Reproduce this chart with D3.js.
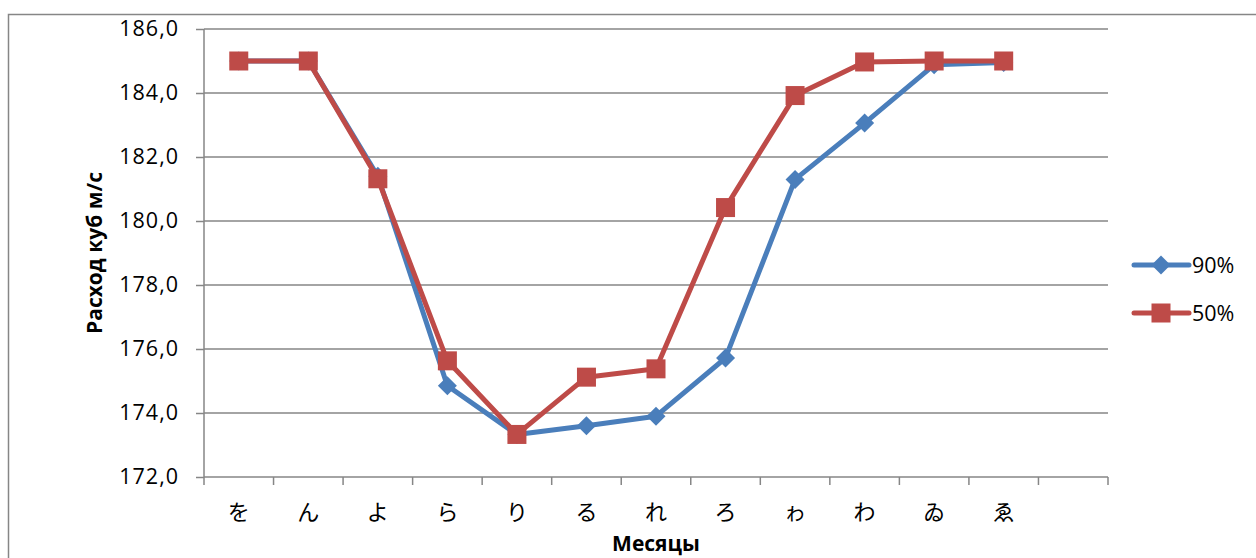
<!DOCTYPE html>
<html><head><meta charset="utf-8">
<script src="https://cdn.jsdelivr.net/npm/d3@7/dist/d3.min.js"></script>
<style>
body{margin:0;background:#fff;}
text{font-family:"Open Sans","Liberation Sans",sans-serif;fill:#000;}
</style></head>
<body>
<svg id="c" width="1256" height="558"></svg>
<script>
const categories = ["を","ん","よ","ら","り","る","れ","ろ","ゎ","わ","ゐ","ゑ",""];
const series90 = [185.0,185.0,181.4,174.85,173.33,173.6,173.9,175.72,181.3,183.06,184.88,184.95];
const series50 = [185.0,185.0,181.32,175.63,173.33,175.12,175.38,180.42,183.92,184.97,185.0,185.0];
const seriesNames = ["90%","50%"];
const yTicks = [172,174,176,178,180,182,184,186];
const yTitle = "Расход куб м/с";
const xTitle = "Месяцы";

const svg = d3.select("#c");
const L = 204, R = 1108, T = 29, B = 477;
const blue = "#4A7EBB", red = "#BE4B48";

// outer frame
svg.append("rect").attr("x",8.5).attr("y",14.5).attr("width",1300).attr("height",600)
  .attr("fill","none").attr("stroke","#868686").attr("stroke-width",1.5);

const x = d3.scaleBand().domain(categories).range([L,R]).padding(0);
const y = d3.scaleLinear().domain([172,186]).range([B,T]);
const cx = c => x(c) + x.bandwidth()/2;

// gridlines
svg.append("g").selectAll("line").data(yTicks.slice(1)).join("line")
  .attr("x1",L).attr("x2",R).attr("y1",d=>y(d)).attr("y2",d=>y(d))
  .attr("stroke","#868686").attr("stroke-width",1.5);

// y axis
const fmt = d => d3.format(".1f")(d).replace(".",",");
const yAxis = svg.append("g").attr("transform",`translate(${L},0)`)
  .call(d3.axisLeft(y).tickValues(yTicks).tickFormat(fmt).tickSize(8).tickPadding(17));
yAxis.select(".domain").attr("stroke","#868686").attr("stroke-width",1.5).attr("d",`M0,${T}V${B}`);
yAxis.selectAll(".tick line").attr("stroke","#868686").attr("stroke-width",1.5);
yAxis.selectAll("text").attr("font-size",21.5).attr("letter-spacing","1px")
  .style("font-family","'Open Sans',sans-serif");

// x axis
const xAxis = svg.append("g").attr("transform",`translate(0,${B})`)
  .call(d3.axisBottom(x).tickSize(0).tickPadding(0));
xAxis.select(".domain").attr("stroke","#868686").attr("stroke-width",1.5).attr("d",`M${L},0H${R}`);
xAxis.selectAll(".tick text").attr("y",43).attr("dy",0).attr("font-size",22)
  .style("font-family","'Noto Sans CJK JP',sans-serif");
// x tick marks at band boundaries
svg.append("g").selectAll("line").data(categories.concat(["__end"])).join("line")
  .attr("x1",(d,i)=>L + i*x.bandwidth()).attr("x2",(d,i)=>L + i*x.bandwidth())
  .attr("y1",B).attr("y2",B+8).attr("stroke","#868686").attr("stroke-width",1.5);

// titles
svg.append("text").attr("transform",`translate(102,${(T+B)/2}) rotate(-90)`)
  .attr("text-anchor","middle").attr("font-size",21).attr("font-weight","bold").text(yTitle);
svg.append("text").attr("x",(L+R)/2).attr("y",551).attr("text-anchor","middle")
  .attr("font-size",21).attr("font-weight","bold").text(xTitle);

const line = d3.line().x((d,i)=>cx(categories[i])).y(d=>y(d));
const diamond = d3.symbol().type(d3.symbolDiamond2).size(230);

// series 90%
svg.append("path").datum(series90).attr("d",line).attr("fill","none")
  .attr("stroke",blue).attr("stroke-width",5).attr("stroke-linejoin","round");
svg.append("g").selectAll("path").data(series90).join("path")
  .attr("transform",(d,i)=>`translate(${cx(categories[i])},${y(d)})`)
  .attr("d",diamond).attr("fill",blue);

// series 50%
svg.append("path").datum(series50).attr("d",line).attr("fill","none")
  .attr("stroke",red).attr("stroke-width",5).attr("stroke-linejoin","round");
const sq = 19;
svg.append("g").selectAll("rect").data(series50).join("rect")
  .attr("x",(d,i)=>cx(categories[i])-sq/2).attr("y",d=>y(d)-sq/2)
  .attr("width",sq).attr("height",sq).attr("fill",red);

// legend
const lg = svg.append("g");
const ly = [265,313];
[blue,red].forEach((col,k)=>{
  lg.append("line").attr("x1",1134).attr("x2",1189).attr("y1",ly[k]).attr("y2",ly[k])
    .attr("stroke",col).attr("stroke-width",5).attr("stroke-linecap","round");
  if(k===0){
    lg.append("path").attr("transform",`translate(1161,${ly[k]})`).attr("d",diamond).attr("fill",col);
  } else {
    lg.append("rect").attr("x",1161-sq/2).attr("y",ly[k]-sq/2).attr("width",sq).attr("height",sq).attr("fill",col);
  }
  lg.append("text").attr("x",1192).attr("y",ly[k]+8).attr("font-size",21.5).text(seriesNames[k]);
});
</script>
</body></html>
